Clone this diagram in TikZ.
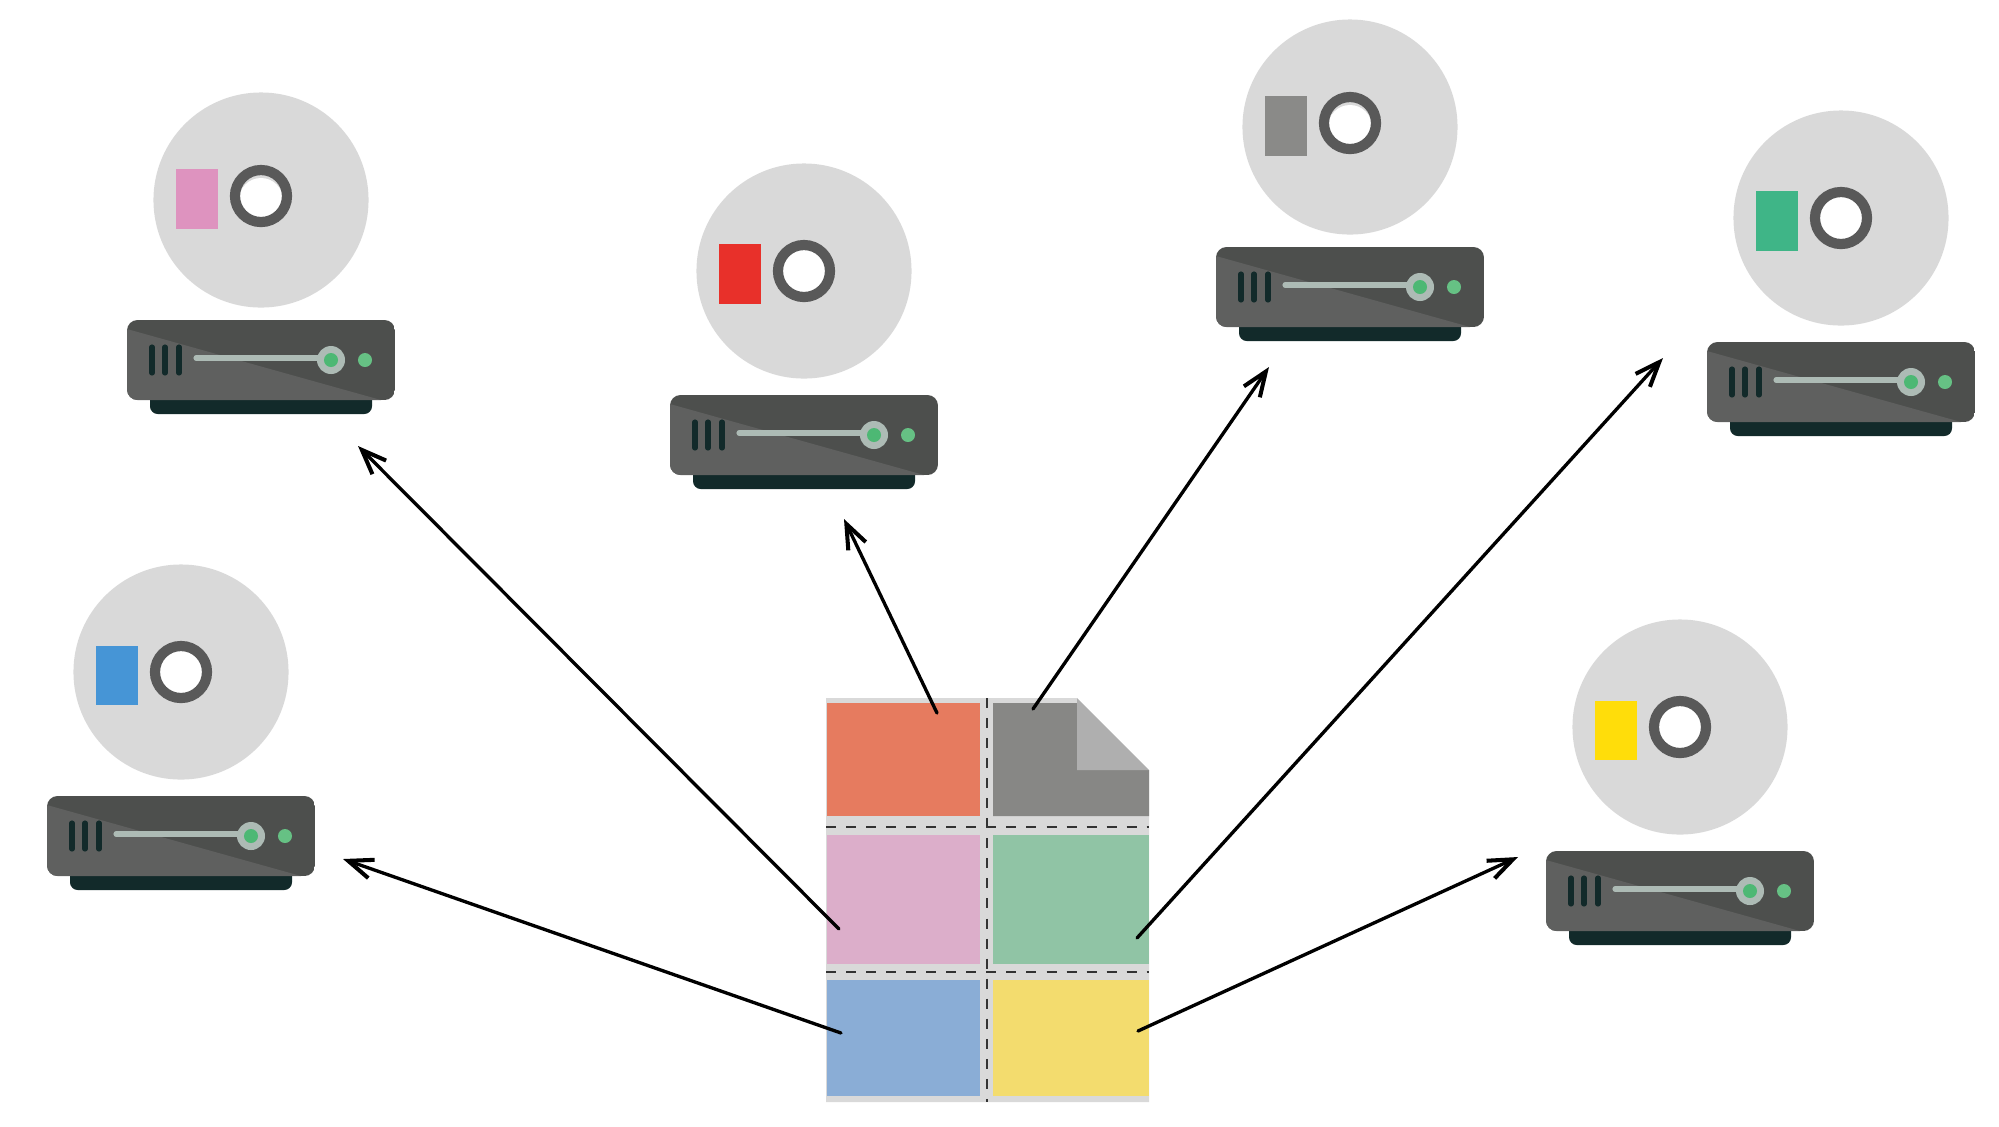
\documentclass[tikz,border=0pt]{standalone}
\usepackage{xcolor}
\usetikzlibrary{arrows.meta}

\definecolor{discgray}{HTML}{D9D9D9}
\definecolor{ringgray}{HTML}{595959}
\definecolor{bodydark}{HTML}{4D4F4D}
\definecolor{bodylight}{HTML}{5F605F}
\definecolor{basedark}{HTML}{122A2A}
\definecolor{sliderc}{HTML}{ADBBB5}
\definecolor{ledgreen}{HTML}{66C184}
\definecolor{knobgreen}{HTML}{4DB874}
\definecolor{tagpink}{HTML}{DE93BF}
\definecolor{tagred}{HTML}{E8302A}
\definecolor{taggray}{HTML}{8A8A88}
\definecolor{taggreen}{HTML}{3FB587}
\definecolor{tagblue}{HTML}{4695D6}
\definecolor{tagyellow}{HTML}{FFDD0A}
\definecolor{cellorange}{HTML}{E67B5F}
\definecolor{cellgray}{HTML}{878785}
\definecolor{cellpink}{HTML}{DCAECA}
\definecolor{cellgreen}{HTML}{90C4A5}
\definecolor{cellblue}{HTML}{8AADD6}
\definecolor{cellyellow}{HTML}{F3DC6E}
\definecolor{foldgray}{HTML}{AFAFAF}

% #1 name, #2 position, #3 tag colour, #4 ring offset (drive sits lower by #4+4)
\newcommand{\discdrive}[4]{
\begin{scope}[shift={#2}]
    \node[disc] (#1disc) at (0,0) {};
    \node[tag, fill=#3] (#1tag) at (-64,{#4+3}) {};
    \node[hole] (#1hole) at (0,0) {};
    \node[ring] (#1ring) at (0,#4) {};
    \begin{scope}[yshift={-(#4+4)*0.01cm}]
        \fill[basedark, rounded corners=2.2pt] (-111,180) rectangle (111,214);
        \begin{scope}
            \clip[rounded corners=3pt] (-134,120) rectangle (134,200);
            \fill[bodydark] (-134,120) rectangle (134,200);
            \fill[bodylight] (-134,129) -- (120,200) -- (-134,200) -- cycle;
        \end{scope}
        \draw[slot] (-109,147) -- (-109,173);
        \draw[slot] (-96,147) -- (-96,173);
        \draw[slot] (-82,147) -- (-82,173);
        \draw[slider] (-65,158) -- (70,158);
        \node[knob] (#1knob) at (70,160) {};
        \node[led, fill=knobgreen] (#1dot) at (70,160) {};
        \node[led, fill=ledgreen] (#1led) at (104,160) {};
    \end{scope}
\end{scope}
}

\begin{document}
\begin{tikzpicture}[
    x=0.01cm, y=-0.01cm,
    disc/.style={circle, fill=discgray, minimum size=2.15cm, inner sep=0pt, outer sep=0pt},
    hole/.style={circle, fill=white, minimum size=0.44cm, inner sep=0pt, outer sep=0pt},
    ring/.style={circle, draw=ringgray, line width=2.9pt, minimum size=0.52cm, inner sep=0pt, outer sep=0pt},
    tag/.style={rectangle, minimum width=0.42cm, minimum height=0.59cm, inner sep=0pt, outer sep=0pt},
    slot/.style={draw=basedark, line width=1.45pt, line cap=round},
    slider/.style={draw=sliderc, line width=1.45pt, line cap=round},
    knob/.style={circle, fill=sliderc, minimum size=0.28cm, inner sep=0pt, outer sep=0pt},
    led/.style={circle, minimum size=0.14cm, inner sep=0pt, outer sep=0pt},
    cell/.style={rectangle, inner sep=0pt, outer sep=0pt, anchor=north west},
    cut/.style={draw=black!80, line width=0.3pt, dash pattern=on 2.85pt off 2.85pt},
    sendline/.style={-{Straight Barb[length=7pt,width=5.5pt,line width=1.15pt]}, line width=0.95pt, black, line cap=round}
]
\useasboundingbox (0,0) rectangle (1999,1126);

% === Drives ===
\discdrive{pink}{(261,200)}{tagpink}{-4}
\discdrive{red}{(804,271)}{tagred}{0}
\discdrive{gray}{(1350,127)}{taggray}{-4}
\discdrive{green}{(1841,218)}{taggreen}{0}
\discdrive{blue}{(181,672)}{tagblue}{0}
\discdrive{yellow}{(1680,727)}{tagyellow}{0}

% === Sheet ===
\fill[discgray] (826,698) -- (1077,698) -- (1149,770) -- (1149,1102) -- (826,1102) -- cycle;

\node[cell, fill=cellorange, minimum width=1.53cm, minimum height=1.13cm] (orange) at (827,703) {};
\fill[cellgray] (993,703) -- (1077,703) -- (1077,770) -- (1149,770) -- (1149,816) -- (993,816) -- cycle;
\coordinate (graycell) at (1033,709);
\fill[foldgray] (1077,698) -- (1149,770) -- (1077,770) -- cycle;
\node[cell, fill=cellpink, minimum width=1.53cm, minimum height=1.29cm] (pinkcell) at (827,835) {};
\node[cell, fill=cellgreen, minimum width=1.56cm, minimum height=1.29cm] (greencell) at (993,835) {};
\node[cell, fill=cellblue, minimum width=1.53cm, minimum height=1.16cm] (bluecell) at (827,980) {};
\node[cell, fill=cellyellow, minimum width=1.56cm, minimum height=1.16cm] (yellowcell) at (993,980) {};

% cut lines
\draw[cut] (987,698) -- (987,1102);
\draw[cut] (826,827) -- (1149,827);
\draw[cut] (826,972) -- (1149,972);

% === Arrows ===
\coordinate (pinkend) at (358,446);
\coordinate (redend) at (844,519);
\coordinate (grayend) at (1269,367);
\coordinate (greenend) at (1663,358);
\coordinate (blueend) at (343,859);
\coordinate (yellowend) at (1518,857);

\coordinate (orangefrom) at (937,713);
\coordinate (pinkfrom) at (839,929);
\coordinate (greenfrom) at (1137,938);
\coordinate (bluefrom) at (841,1033);
\coordinate (yellowfrom) at (1138,1031);

\draw[sendline] (pinkfrom) -- (pinkend);
\draw[sendline] (orangefrom) -- (redend);
\draw[sendline] (graycell) -- (grayend);
\draw[sendline] (greenfrom) -- (greenend);
\draw[sendline] (bluefrom) -- (blueend);
\draw[sendline] (yellowfrom) -- (yellowend);

\end{tikzpicture}
\end{document}
